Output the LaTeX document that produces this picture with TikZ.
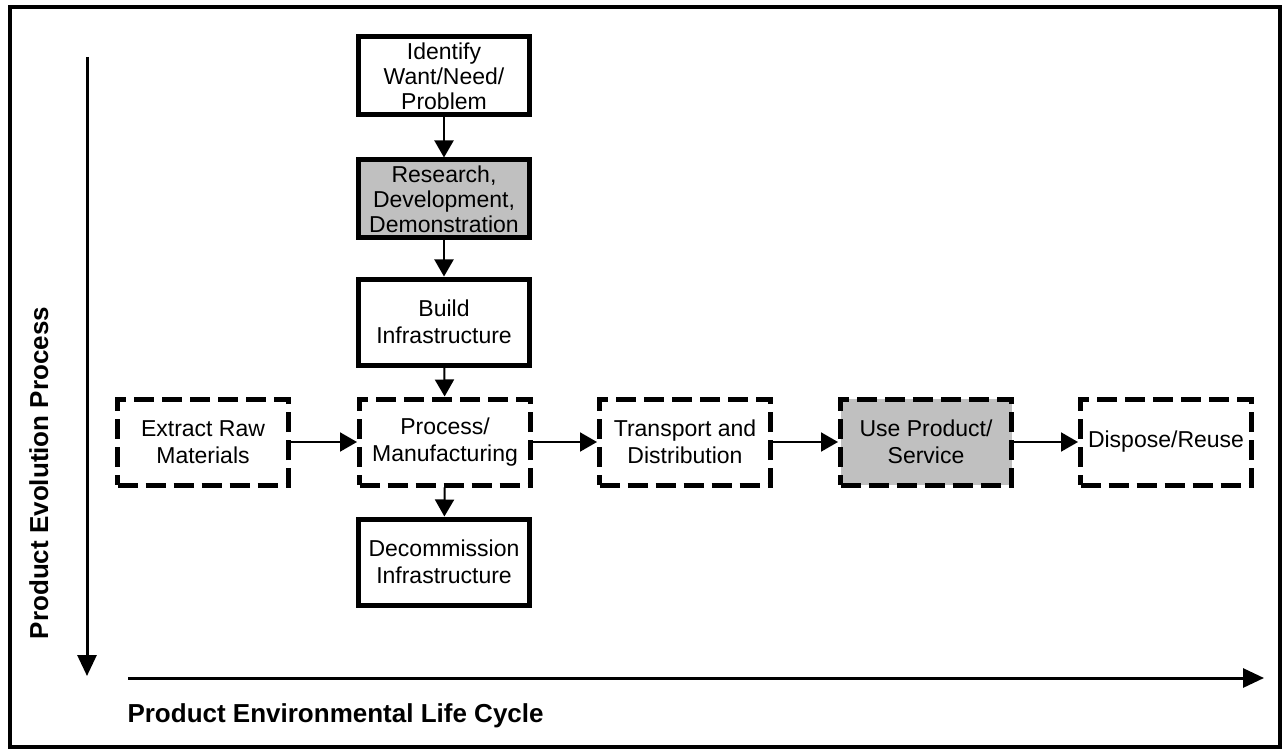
\documentclass[tikz,border=0pt]{standalone}
\usepackage{fontspec}
\setmainfont{Liberation Sans}
\usepackage{xcolor}
\usetikzlibrary{arrows.meta}
\definecolor{shade}{RGB}{192,192,192}

\begin{document}
\begin{tikzpicture}[
x=1pt,y=-1pt,
every node/.style={font=\fontsize{23}{27}\selectfont},
block/.style={rectangle,draw,line width=5pt,align=center,minimum width=171pt,minimum height=86pt,inner sep=2pt},
tallblock/.style={block,minimum height=78pt,inner sep=1pt,font=\fontsize{23}{25}\selectfont},
stage/.style={block,dash pattern=on 20pt off 8pt},
flow/.style={line width=2pt,-{Triangle[length=17pt,width=19pt]}},
axis/.style={line width=3pt,-{Triangle[length=21pt,width=19pt]}},
title/.style={font=\fontsize{26}{30}\selectfont\bfseries}
]
\useasboundingbox (0,0) rectangle (1284,751);

% Frame
\draw[line width=4pt] (10,7) rectangle (1280,747);

% Evolution column
\node[tallblock] (want) at (444,76) {Identify\\Want/Need/\\Problem};
\node[tallblock,fill=shade] (rdd) at (444,199) {Research,\\Development,\\Demonstration};
\node[block] (build) at (444,322) {Build\\Infrastructure};
\node[block] (decom) at (444,562) {Decommission\\Infrastructure};

% Life cycle row
\node[stage] (extract) at (203,442) {Extract Raw\\Materials};
\node[stage] (process) at (445,442) {Process/\\Manufacturing};
\node[stage] (transport) at (685,442) {Transport and\\Distribution};
\node[stage,fill=shade] (use) at (926,442) {Use Product/\\Service};
\node[stage] (dispose) at (1166,442) {Dispose/Reuse};

% Connections
\draw[flow] (want) -- (rdd);
\draw[flow] (rdd) -- (build);
\draw[flow] (build) -- (process);
\draw[flow] (process) -- (decom);
\draw[flow] (extract) -- (process);
\draw[flow] (process) -- (transport);
\draw[flow] (transport) -- (use);
\draw[flow] (use) -- (dispose);

% Axes
\coordinate (evtop) at (87,57);
\coordinate (evend) at (87,676);
\coordinate (lcstart) at (128,678);
\coordinate (lcend) at (1264,678);
\draw[axis] (evtop) -- (evend);
\draw[axis] (lcstart) -- (lcend);

\node[title,rotate=90,anchor=base] (evname) at (48,473) {Product Evolution Process};
\node[title,anchor=base west] (lcname) at (124,722) {Product Environmental Life Cycle};

\end{tikzpicture}
\end{document}
